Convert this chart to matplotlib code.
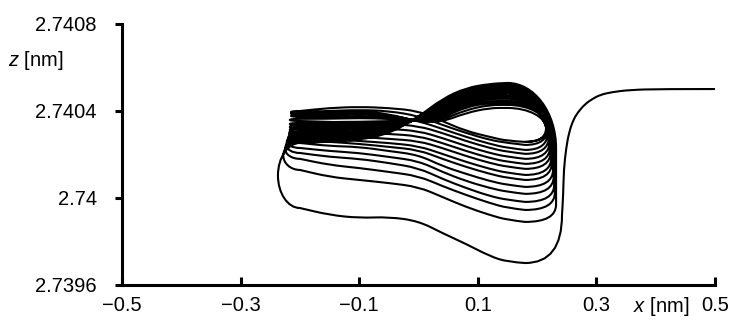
import matplotlib
matplotlib.use('Agg')
import matplotlib.pyplot as plt
from matplotlib.path import Path
from matplotlib.patches import PathPatch

plt.rcParams['font.family'] = ['Liberation Sans', 'DejaVu Sans']
plt.rcParams['mathtext.fontset'] = 'custom'
plt.rcParams['mathtext.it'] = 'Liberation Sans:italic'
plt.rcParams['mathtext.rm'] = 'Liberation Sans'

x_st = [-0.20, -0.15, -0.10, -0.05, 0.00, 0.04, 0.08, 0.12, 0.15, 0.18]

# lower branch of each loop, outermost first (z in nm)
bottom_z = [
    [2.739954, 2.739922, 2.739908, 2.739913, 2.739894, 2.739839, 2.739789, 2.739733, 2.739706, 2.739701],
    [2.740129, 2.740097, 2.740083, 2.740069, 2.740051, 2.740005, 2.739959, 2.739922, 2.739899, 2.739890],
    [2.740180, 2.740152, 2.740138, 2.740120, 2.740101, 2.740055, 2.740014, 2.739977, 2.739954, 2.739945],
    [2.740207, 2.740189, 2.740180, 2.740161, 2.740138, 2.740088, 2.740046, 2.740009, 2.739991, 2.739982],
    [2.740230, 2.740216, 2.740207, 2.740189, 2.740170, 2.740120, 2.740078, 2.740046, 2.740028, 2.740019],
    [2.740253, 2.740239, 2.740235, 2.740216, 2.740198, 2.740147, 2.740111, 2.740078, 2.740060, 2.740051],
    [2.740267, 2.740258, 2.740249, 2.740235, 2.740221, 2.740180, 2.740143, 2.740111, 2.740092, 2.740083],
    [2.740281, 2.740272, 2.740262, 2.740253, 2.740239, 2.740203, 2.740166, 2.740134, 2.740115, 2.740106],
    [2.740299, 2.740290, 2.740281, 2.740272, 2.740262, 2.740230, 2.740193, 2.740161, 2.740143, 2.740134],
    [2.740318, 2.740308, 2.740299, 2.740295, 2.740285, 2.740253, 2.740216, 2.740184, 2.740166, 2.740157],
    [2.740336, 2.740327, 2.740322, 2.740318, 2.740308, 2.740276, 2.740239, 2.740207, 2.740189, 2.740180],
    [2.740354, 2.740350, 2.740345, 2.740341, 2.740331, 2.740299, 2.740262, 2.740230, 2.740212, 2.740203],
    [2.740382, 2.740382, 2.740387, 2.740382, 2.740354, 2.740318, 2.740281, 2.740249, 2.740230, 2.740221],
    [2.740396, 2.740400, 2.740405, 2.740400, 2.740377, 2.740336, 2.740299, 2.740267, 2.740253, 2.740244],
    [2.740400, 2.740414, 2.740419, 2.740414, 2.740400, 2.740354, 2.740308, 2.740281, 2.740262, 2.740258],
]

# upper branch of each loop, at x_st[:9]
top_z = [
    [2.740253, 2.740258, 2.740267, 2.740295, 2.740373, 2.740456, 2.740506, 2.740525, 2.740529],
    [2.740262, 2.740267, 2.740276, 2.740304, 2.740368, 2.740446, 2.740497, 2.740515, 2.740520],
    [2.740272, 2.740276, 2.740285, 2.740308, 2.740368, 2.740437, 2.740492, 2.740511, 2.740515],
    [2.740281, 2.740285, 2.740295, 2.740313, 2.740364, 2.740433, 2.740483, 2.740502, 2.740506],
    [2.740290, 2.740295, 2.740299, 2.740318, 2.740364, 2.740423, 2.740479, 2.740497, 2.740497],
    [2.740299, 2.740304, 2.740308, 2.740327, 2.740364, 2.740419, 2.740469, 2.740488, 2.740492],
    [2.740308, 2.740313, 2.740318, 2.740331, 2.740359, 2.740410, 2.740465, 2.740483, 2.740483],
    [2.740318, 2.740322, 2.740327, 2.740336, 2.740359, 2.740405, 2.740456, 2.740474, 2.740479],
    [2.740327, 2.740331, 2.740336, 2.740341, 2.740359, 2.740396, 2.740451, 2.740469, 2.740469],
    [2.740336, 2.740341, 2.740341, 2.740350, 2.740354, 2.740391, 2.740442, 2.740460, 2.740465],
    [2.740345, 2.740350, 2.740350, 2.740354, 2.740354, 2.740382, 2.740437, 2.740456, 2.740456],
    [2.740364, 2.740364, 2.740368, 2.740364, 2.740354, 2.740377, 2.740428, 2.740446, 2.740446],
    [2.740373, 2.740373, 2.740377, 2.740373, 2.740354, 2.740368, 2.740419, 2.740437, 2.740437],
    [2.740382, 2.740387, 2.740391, 2.740377, 2.740350, 2.740359, 2.740405, 2.740428, 2.740428],
    [2.740391, 2.740396, 2.740400, 2.740387, 2.740350, 2.740350, 2.740391, 2.740414, 2.740414],
]

# left / right turning x of each loop
left_x = [-0.237, -0.228, -0.225, -0.223, -0.222, -0.220, -0.218, -0.218,
          -0.217, -0.217, -0.217, -0.217, -0.215, -0.215, -0.215]
right_x = [0.232, 0.230, 0.229, 0.228, 0.227, 0.225, 0.224, 0.223,
           0.222, 0.221, 0.220, 0.218, 0.218, 0.217, 0.215]

# incoming part of the trajectory from the right
tail_x = [0.5, 0.407, 0.357, 0.326, 0.306, 0.293, 0.281, 0.269, 0.261, 0.254, 0.249, 0.245, 0.244, 0.242]
tail_z = [2.740501, 2.740501, 2.740497, 2.740487, 2.740474, 2.740455, 2.740432,
          2.740395, 2.740359, 2.740303, 2.740230, 2.740129, 2.740014, 2.739922]

K = 0.55  # handle length for rounded turns


def mid(p, q):
    return ((p[0] + q[0]) / 2, (p[1] + q[1]) / 2)


def spline(p):
    # smooth curve from p[0] to p[-1] using the inner points as controls
    v, c = [], []
    for i in range(1, len(p) - 1):
        v += [p[i], mid(p[i], p[i + 1])]
        c += [Path.CURVE3, Path.CURVE3]
    v.append(p[-1])
    c.append(Path.LINETO)
    return v, c


def turn(p, q, horizontal_first):
    # quarter-ellipse style turn from p to q
    if horizontal_first:
        c1 = (p[0] + K * (q[0] - p[0]), p[1])
        c2 = (q[0], q[1] + K * (p[1] - q[1]))
    else:
        c1 = (p[0], p[1] + K * (q[1] - p[1]))
        c2 = (q[0] + K * (p[0] - q[0]), q[1])
    return [c1, c2, q], [Path.CURVE4] * 3


verts = [(tail_x[0], tail_z[0])]
codes = [Path.MOVETO]
v, c = spline(list(zip(tail_x, tail_z)))
verts += v; codes += c
verts += [(tail_x[-1], bottom_z[0][-1]), (x_st[-1], bottom_z[0][-1])]
codes += [Path.CURVE3, Path.CURVE3]

n = len(bottom_z)
for k in range(n):
    b = bottom_z[k]
    t = top_z[k]
    L = left_x[k]
    v, c = spline([(x_st[j], b[j]) for j in range(len(x_st) - 1, -1, -1)])
    verts += v; codes += c
    zm = (b[0] + t[0]) / 2
    v, c = turn((x_st[0], b[0]), (L, zm), True)
    verts += v; codes += c
    v, c = turn((L, zm), (x_st[0], t[0]), False)
    verts += v; codes += c
    v, c = spline([(x_st[j], t[j]) for j in range(len(t))])
    verts += v; codes += c

    # right turn: rounded top corner, straight side, tighter bottom corner
    x0, t8, R = x_st[len(t) - 1], t[-1], right_x[k]
    nb = bottom_z[min(k + 1, n - 1)][-1]
    span = t8 - nb
    rb = min(0.00008, 0.4 * span)
    h = min(0.0003, span - rb)
    v, c = turn((x0, t8), (R, t8 - h), True)
    verts += v; codes += c
    verts += [(R, nb + rb), (R, nb), (x_st[-1], nb)]
    codes += [Path.LINETO, Path.CURVE3, Path.CURVE3]

fig = plt.figure(figsize=(7.31, 3.22), dpi=100)
ax = fig.add_axes([122 / 731, 37 / 322, 593 / 731, 261 / 322])
ax.add_patch(PathPatch(Path(verts, codes), fill=False, edgecolor='black',
                       linewidth=1.5, joinstyle='round'))

ax.set_xlim(-0.5, 0.5)
ax.set_ylim(2.7396, 2.7408)
ax.set_xticks([-0.5, -0.3, -0.1, 0.1, 0.3, 0.5])
ax.set_xticklabels(['\u22120.5', '\u22120.3', '\u22120.1', '0.1', '0.3', '0.5'])
ax.set_yticks([2.7396, 2.74, 2.7404, 2.7408])
ax.set_yticklabels(['2.7396', '2.74', '2.7404', '2.7408'])

for s in ['top', 'right']:
    ax.spines[s].set_visible(False)
for s in ['left', 'bottom']:
    ax.spines[s].set_linewidth(2.2)
ax.tick_params(axis='y', direction='out', length=5, width=2.2, pad=13, labelsize=14.5)
ax.tick_params(axis='x', direction='in', length=6, width=2.2, pad=8, labelsize=14.5)

fig.text(8 / 731, 1 - 61 / 322, r'$z$ [nm]', fontsize=14.5, ha='left', va='center')
fig.text(633 / 731, 1 - 312 / 322, r'$x$ [nm]', fontsize=14.5, ha='left', va='baseline')

fig.savefig('out.png', dpi=100)
